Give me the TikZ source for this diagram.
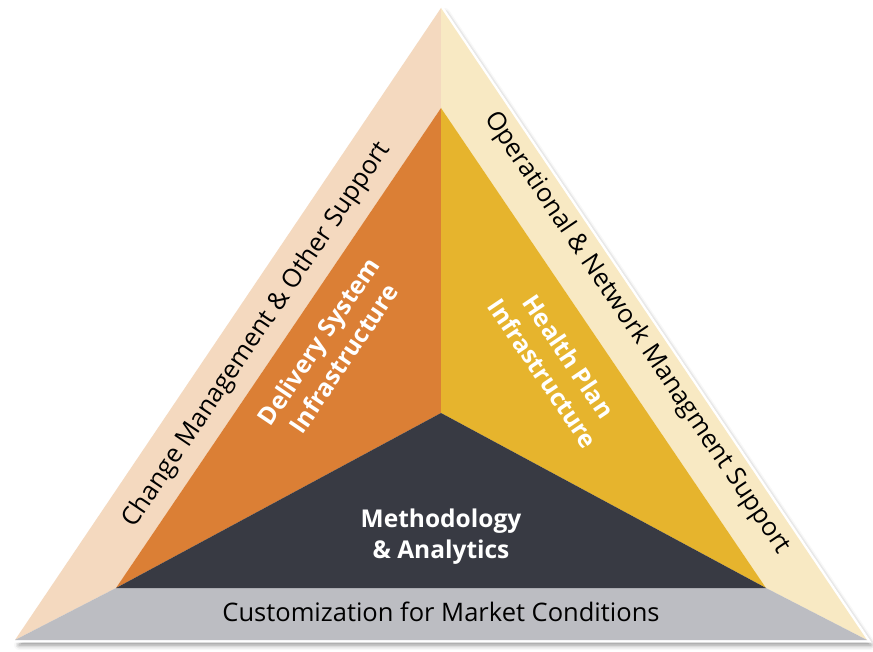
\documentclass[tikz,border=0pt]{standalone}
\usepackage{fontspec}
\setmainfont{Open Sans}
\usetikzlibrary{shadows.blur}

\definecolor{peachband}{HTML}{F4D9BF}
\definecolor{creamband}{HTML}{F8E9C3}
\definecolor{greyband}{HTML}{BCBDC2}
\definecolor{deliveryorange}{HTML}{DB7F35}
\definecolor{healthyellow}{HTML}{E6B42D}
\definecolor{methodslate}{HTML}{383A43}

\begin{document}
\begin{tikzpicture}[
        x=1pt, y=-1pt,
        bandtext/.style={font=\fontsize{25.5}{29}\selectfont, text=black, inner sep=0pt},
        coretext/.style={font=\bfseries\fontsize{24.5}{31}\selectfont, text=white, align=center, inner sep=0pt}
    ]
        \useasboundingbox (0,0) rectangle (873,652);

        % Corners of the outer and inner triangles
        \coordinate (top) at (441,8);
        \coordinate (bl) at (15,640);
        \coordinate (br) at (867,640);
        \coordinate (itop) at (441,108);
        \coordinate (ibl) at (116,588);
        \coordinate (ibr) at (766,588);
        \coordinate (mid) at (441,413);

        % Outer frame
        \filldraw[white, line width=5pt, line join=miter,
            blur shadow={shadow xshift=4pt, shadow yshift=-5pt, shadow blur radius=5pt, shadow opacity=45}]
            (top) -- (br) -- (bl) -- cycle;

        % Bands
        \fill[peachband] (top) -- (itop) -- (ibl) -- (bl) -- cycle;
        \fill[creamband] (top) -- (br) -- (ibr) -- (itop) -- cycle;
        \fill[greyband] (bl) -- (ibl) -- (ibr) -- (br) -- cycle;

        % Inner triangle
        \fill[deliveryorange] (itop) -- (mid) -- (ibl) -- cycle;
        \fill[healthyellow] (itop) -- (ibr) -- (mid) -- cycle;
        \fill[methodslate] (ibl) -- (mid) -- (ibr) -- cycle;

        % Labels
        \node (change) [bandtext, rotate=56] at (257,335) {Change Management \& Other Support};
        \node (operational) [bandtext, rotate=-56] at (637,333) {Operational \& Network Managment Support};
        \node (custom) [bandtext] at (441,612) {Customization for Market Conditions};
        \node (delivery) [coretext, rotate=56] at (331,350) {Delivery System\\Infrastructure};
        \node (health) [coretext, rotate=-56] at (556,365) {Health Plan\\Infrastructure};
        \node (methods) [coretext] at (441,537) {Methodology\\\& Analytics};
    \end{tikzpicture}
\end{document}
